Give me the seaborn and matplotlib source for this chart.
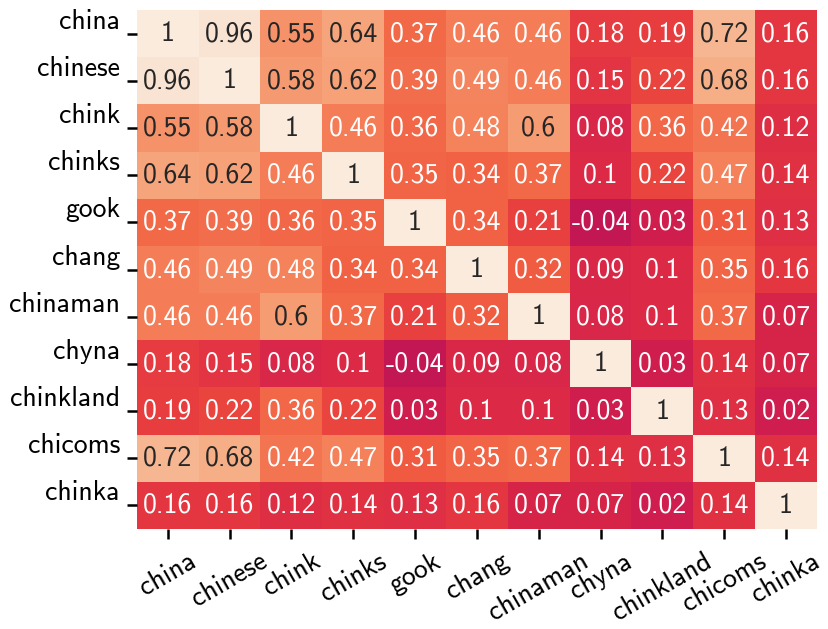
import numpy as np
import pandas as pd
import matplotlib
matplotlib.use('Agg')
import matplotlib.pyplot as plt
import seaborn as sns

words = ['china', 'chinese', 'chink', 'chinks', 'gook', 'chang',
         'chinaman', 'chyna', 'chinkland', 'chicoms', 'chinka']

corr_rows = [
    [1, 0.96, 0.55, 0.64, 0.37, 0.46, 0.46, 0.18, 0.19, 0.72, 0.16],
    [0.96, 1, 0.58, 0.62, 0.39, 0.49, 0.46, 0.15, 0.22, 0.68, 0.16],
    [0.55, 0.58, 1, 0.46, 0.36, 0.48, 0.6, 0.08, 0.36, 0.42, 0.12],
    [0.64, 0.62, 0.46, 1, 0.35, 0.34, 0.37, 0.1, 0.22, 0.47, 0.14],
    [0.37, 0.39, 0.36, 0.35, 1, 0.34, 0.21, -0.04, 0.03, 0.31, 0.13],
    [0.46, 0.49, 0.48, 0.34, 0.34, 1, 0.32, 0.09, 0.1, 0.35, 0.16],
    [0.46, 0.46, 0.6, 0.37, 0.21, 0.32, 1, 0.08, 0.1, 0.37, 0.07],
    [0.18, 0.15, 0.08, 0.1, -0.04, 0.09, 0.08, 1, 0.03, 0.14, 0.07],
    [0.19, 0.22, 0.36, 0.22, 0.03, 0.1, 0.1, 0.03, 1, 0.13, 0.02],
    [0.72, 0.68, 0.42, 0.47, 0.31, 0.35, 0.37, 0.14, 0.13, 1, 0.14],
    [0.16, 0.16, 0.12, 0.14, 0.13, 0.16, 0.07, 0.07, 0.02, 0.14, 1],
]

corr = pd.DataFrame(corr_rows, index=words, columns=words)

plt.rcParams['font.family'] = ['cmss10', 'DejaVu Sans']
plt.rcParams['axes.unicode_minus'] = False

fig = plt.figure(figsize=(8.29, 6.29), dpi=100)
ax = fig.add_axes([0.165, 0.159, 0.8205, 0.825])

sns.heatmap(corr, annot=True, vmin=-1, vmax=1, cbar=False,
            annot_kws={'size': 20}, ax=ax)

ax.tick_params(axis='both', labelsize=20, length=7, width=1.8)
ax.tick_params(axis='y', pad=5)
ax.tick_params(axis='x', pad=7)
plt.setp(ax.get_xticklabels(), rotation=30, ha='center')
plt.setp(ax.get_yticklabels(), rotation=0, va='bottom')

fig.savefig('out.png', dpi=100)
